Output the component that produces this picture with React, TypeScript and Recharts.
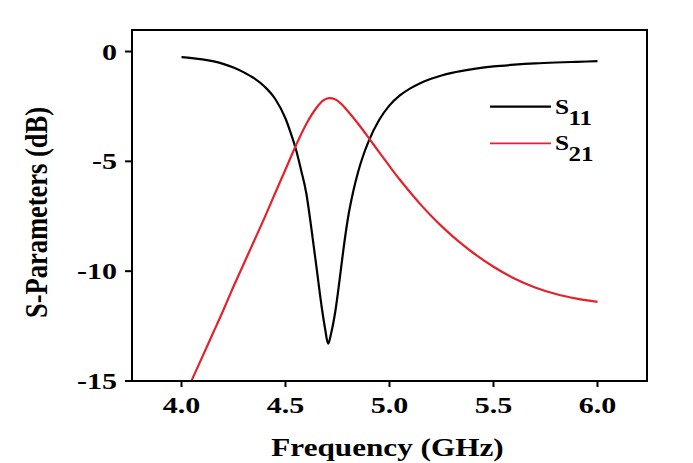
import React from "react";
import { LineChart, Line, XAxis, YAxis, Legend, ReferenceArea } from "recharts";

const freqS11 = [4.0, 4.05, 4.1, 4.15, 4.2, 4.25, 4.3, 4.35, 4.4, 4.45, 4.5, 4.525, 4.55, 4.575, 4.6, 4.625, 4.65, 4.675, 4.69, 4.705, 4.72, 4.74, 4.76, 4.78, 4.8, 4.825, 4.85, 4.875, 4.9, 4.95, 5.0, 5.05, 5.1, 5.15, 5.2, 5.25, 5.3, 5.4, 5.5, 5.6, 5.7, 5.8, 5.9, 6.0];
const s11 = [-0.25, -0.3, -0.36, -0.44, -0.56, -0.73, -0.95, -1.22, -1.6, -2.15, -3.05, -3.7, -4.45, -5.4, -6.45, -8.1, -9.9, -11.7, -12.6, -13.3, -12.8, -11.8, -10.4, -8.9, -7.6, -6.4, -5.45, -4.7, -4.08, -3.12, -2.45, -2.0, -1.68, -1.43, -1.24, -1.09, -0.97, -0.8, -0.68, -0.6, -0.54, -0.5, -0.47, -0.44];

const freqS21 = [4.0, 4.05, 4.1, 4.15, 4.2, 4.25, 4.3, 4.35, 4.4, 4.45, 4.5, 4.55, 4.6, 4.65, 4.68, 4.71, 4.74, 4.77, 4.8, 4.85, 4.9, 4.95, 5.0, 5.05, 5.1, 5.15, 5.2, 5.25, 5.3, 5.35, 5.4, 5.5, 5.6, 5.7, 5.8, 5.9, 6.0];
const s21 = [-16.0, -14.95, -13.9, -12.85, -11.8, -10.7, -9.65, -8.6, -7.55, -6.45, -5.37, -4.28, -3.3, -2.55, -2.24, -2.12, -2.18, -2.4, -2.72, -3.3, -3.93, -4.58, -5.22, -5.84, -6.42, -6.97, -7.48, -7.95, -8.38, -8.78, -9.15, -9.8, -10.33, -10.74, -11.04, -11.25, -11.4];

const xTicks = [4.0, 4.5, 5.0, 5.5, 6.0];
const yTicks = [-15, -10, -5, 0];
const xDomain = [3.762, 6.238];
const yDomain = [-15, 0.98];

const seriesNames = ["S11", "S21"];
const seriesColors = ["#000000", "#e3222b"];

const s11Data = freqS11.map((f, i) => ({ f, v: s11[i] }));
const s21Data = freqS21.map((f, i) => ({ f, v: s21[i] }));

const FONT = '"Liberation Serif", "Times New Roman", serif';
const SX = 1.25;

const XTick = (props: any) => {
  const { x, y, payload } = props;
  return (
    <text
      transform={`translate(${x},${y + 26}) scale(${SX},1)`}
      textAnchor="middle"
      fontFamily={FONT}
      fontWeight="bold"
      fontSize={24}
      fill="#000"
    >
      {Number(payload.value).toFixed(1)}
    </text>
  );
};

const YTick = (props: any) => {
  const { x, y, payload } = props;
  return (
    <text
      transform={`translate(${x - 8},${y + 8}) scale(${SX},1)`}
      textAnchor="end"
      fontFamily={FONT}
      fontWeight="bold"
      fontSize={24}
      fill="#000"
    >
      {payload.value}
    </text>
  );
};

const XTitle = (props: any) => {
  const vb = props.viewBox || {};
  const cx = vb.x + vb.width / 2 - 2;
  const cy = vb.y + 75;
  return (
    <text
      transform={`translate(${cx},${cy}) scale(1.2,1)`}
      textAnchor="middle"
      fontFamily={FONT}
      fontWeight="bold"
      fontSize={26}
      fill="#000"
    >
      Frequency (GHz)
    </text>
  );
};

const YTitle = (props: any) => {
  const vb = props.viewBox || {};
  const cx = vb.x + 39;
  const cy = vb.y + vb.height / 2 + 7;
  return (
    <text
      transform={`translate(${cx},${cy}) rotate(-90) scale(1,1.2)`}
      textAnchor="middle"
      fontFamily={FONT}
      fontWeight="bold"
      fontSize={26.5}
      fill="#000"
    >
      S-Parameters (dB)
    </text>
  );
};

const LegendContent = (props: any) => {
  const payload = props.payload || [];
  return (
    <svg width={130} height={75} style={{ display: "block", overflow: "visible" }}>
      {payload.map((p: any, i: number) => {
        const name = String(p.value);
        const base = 13.7 + i * 36.6;
        return (
          <g key={name}>
            <line x1={2} x2={63} y1={base} y2={base} stroke={p.color} strokeWidth={i === 0 ? 2.2 : 1.8} />
            <text
              transform={`translate(67,${base + 7}) scale(1.15,1)`}
              fontFamily={FONT}
              fontWeight="bold"
              fontSize={22}
              fill="#000"
            >
              {name.charAt(0)}
            </text>
            <text
              transform={`translate(80.5,${base + 18}) scale(1.25,1)`}
              fontFamily={FONT}
              fontWeight="bold"
              fontSize={20}
              fill="#000"
            >
              {name.slice(1)}
            </text>
          </g>
        );
      })}
    </svg>
  );
};

export default function App() {
  return (
    <LineChart
      width={685}
      height={455}
      margin={{ top: 22, right: 46, left: 0, bottom: 0 }}
      style={{ background: "#fff" }}
    >
      <XAxis
        xAxisId="main"
        type="number"
        dataKey="f"
        domain={xDomain}
        ticks={xTicks}
        allowDataOverflow
        height={82}
        tickSize={6}
        tickMargin={0}
        tick={<XTick />}
        axisLine={{ stroke: "#000", strokeWidth: 2 }}
        tickLine={{ stroke: "#000", strokeWidth: 2 }}
        label={<XTitle />}
      />
      <YAxis
        yAxisId="main"
        type="number"
        domain={yDomain}
        ticks={yTicks}
        allowDataOverflow
        width={124}
        tickSize={7}
        tickMargin={0}
        tick={<YTick />}
        axisLine={{ stroke: "#000", strokeWidth: 2 }}
        tickLine={{ stroke: "#000", strokeWidth: 2 }}
        label={<YTitle />}
      />
      <ReferenceArea
        xAxisId="main"
        yAxisId="main"
        x1={xDomain[0]}
        x2={xDomain[1]}
        y1={yDomain[0]}
        y2={yDomain[1]}
        fill="none"
        fillOpacity={0}
        stroke="#000"
        strokeWidth={2}
        ifOverflow="visible"
      />
      <Legend
        layout="horizontal"
        verticalAlign="middle"
        align="center"
        content={<LegendContent />}
        wrapperStyle={{ left: 480, top: 85, bottom: "auto", width: 130, height: 75 }}
      />
      <Line
        xAxisId="main"
        yAxisId="main"
        data={s11Data}
        dataKey="v"
        name={seriesNames[0]}
        type="monotone"
        stroke={seriesColors[0]}
        strokeWidth={2.2}
        dot={false}
        isAnimationActive={false}
      />
      <Line
        xAxisId="main"
        yAxisId="main"
        data={s21Data}
        dataKey="v"
        name={seriesNames[1]}
        type="monotone"
        stroke={seriesColors[1]}
        strokeWidth={2.2}
        dot={false}
        isAnimationActive={false}
      />
    </LineChart>
  );
}
